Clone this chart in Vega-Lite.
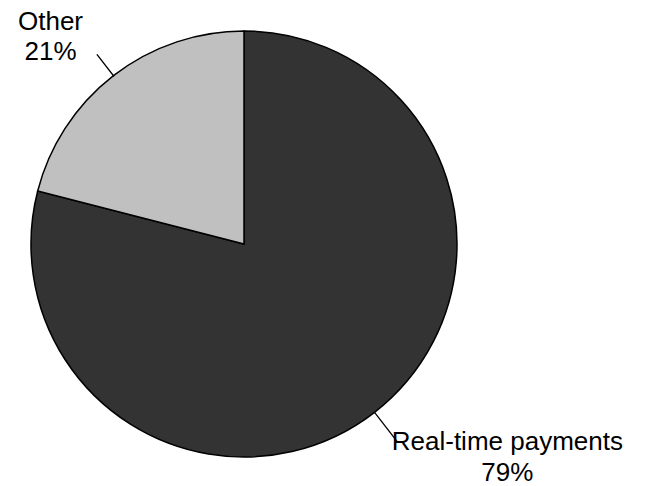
{
  "$schema": "https://vega.github.io/schema/vega-lite/v6.json",
  "width": 488,
  "height": 486,
  "autosize": {"type": "none"},
  "padding": {"left": 0, "top": 1, "right": 158, "bottom": 0},
  "background": "white",
  "config": {"view": {"stroke": null}},
  "data": {
    "values": [
      {"category": "Real-time payments", "value": 79, "label": "Real-time payments\n79%"},
      {"category": "Other", "value": 21, "label": "Other\n21%"}
    ]
  },
  "encoding": {
    "theta": {"field": "value", "type": "quantitative", "stack": true},
    "order": {"field": "value", "type": "quantitative", "sort": "descending"}
  },
  "layer": [
    {
      "mark": {"type": "arc", "outerRadius": 213, "stroke": "black", "strokeWidth": 1.5},
      "encoding": {
        "color": {
          "field": "category",
          "type": "nominal",
          "scale": {"domain": ["Real-time payments", "Other"], "range": ["#333333", "#c0c0c0"]},
          "legend": null
        }
      }
    },
    {
      "mark": {"type": "arc", "filled": false, "outerRadius": 240, "innerRadius": 212, "padAngle": 3.14159, "strokeWidth": 1.3},
      "encoding": {
        "stroke": {"condition": {"test": "datum.category === 'Other'", "value": "black"}, "value": "transparent"}
      }
    },
    {
      "mark": {"type": "arc", "filled": false, "outerRadius": 250, "innerRadius": 213, "padAngle": 3.14159, "thetaOffset": 3.14159, "theta2Offset": 3.14159, "strokeWidth": 1.3},
      "encoding": {
        "stroke": {"condition": {"test": "datum.category === 'Other'", "value": "black"}, "value": "transparent"}
      }
    },
    {
      "mark": {"type": "text", "radius": 270, "dx": -28, "dy": -1, "align": "center", "baseline": "alphabetic", "font": "Liberation Sans", "fontSize": 26, "lineBreak": "\n", "lineHeight": 30, "fill": "black"},
      "encoding": {
        "text": {"condition": {"test": "datum.category === 'Other'", "field": "label"}, "value": ""}
      }
    },
    {
      "mark": {"type": "text", "radius": 260, "dx": 104, "dy": 1, "align": "center", "baseline": "alphabetic", "font": "Liberation Sans", "fontSize": 26, "lineBreak": "\n", "lineHeight": 31, "fill": "black"},
      "encoding": {
        "text": {"condition": {"test": "datum.category === 'Real-time payments'", "field": "label"}, "value": ""}
      }
    }
  ]
}
